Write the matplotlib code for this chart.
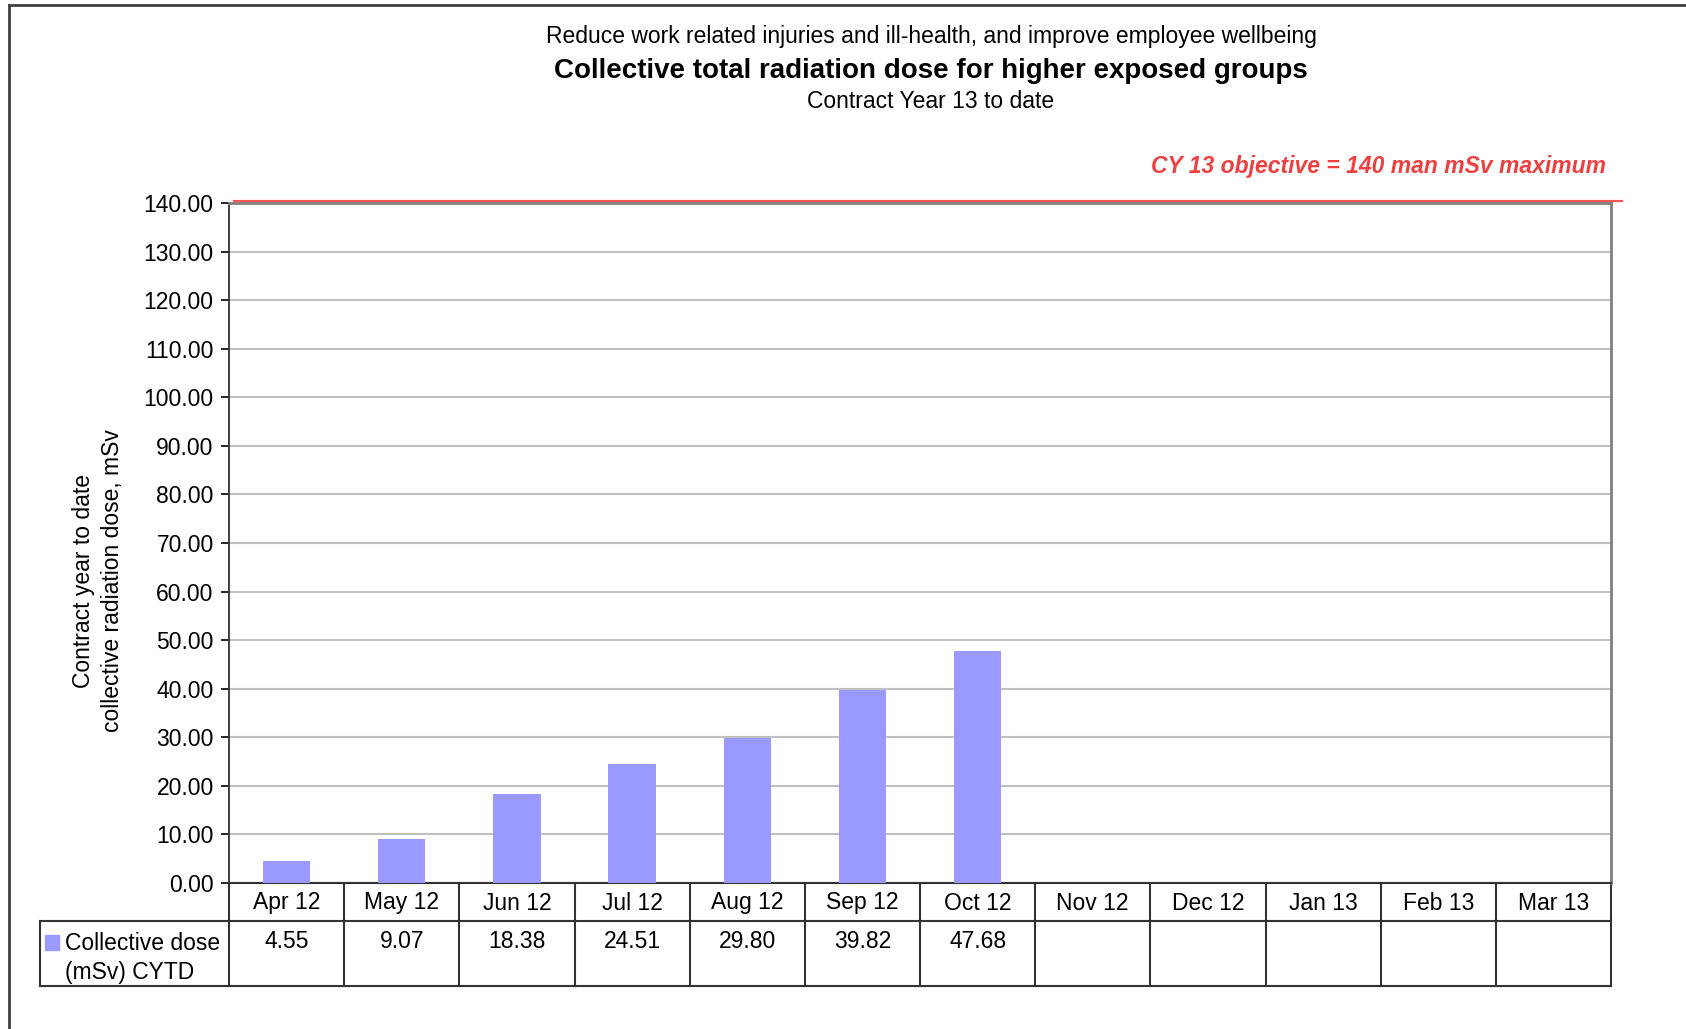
import matplotlib
matplotlib.use("Agg")
import matplotlib.pyplot as plt
from matplotlib.lines import Line2D
from matplotlib.patches import Rectangle
import matplotlib.transforms as mtransforms

plt.rcParams["font.family"] = ["Liberation Sans", "DejaVu Sans"]

# ---------------------------------------------------------
# Data
# ---------------------------------------------------------
months = ["Apr 12", "May 12", "Jun 12", "Jul 12", "Aug 12", "Sep 12",
          "Oct 12", "Nov 12", "Dec 12", "Jan 13", "Feb 13", "Mar 13"]
dose = [4.55, 9.07, 18.38, 24.51, 29.80, 39.82, 47.68]
objective = 140.0
series_label = "Collective dose\n(mSv) CYTD"

FS = 16.5

W, H = 1686, 1029
fig = plt.figure(figsize=(W / 100, H / 100), dpi=100)

# plot area in pixels
left, right, top, bottom = 229, 1611, 203, 883
ax = fig.add_axes([left / W, 1 - bottom / H, (right - left) / W, (bottom - top) / H])

x = list(range(len(months)))
ax.bar(x[:len(dose)], dose, width=0.41, color="#9999ff", zorder=3)

ax.set_xlim(-0.5, len(months) - 0.5)
ax.set_ylim(0, objective)
ax.set_yticks(range(0, 141, 10))
ax.set_yticklabels([f"{v:.2f}" for v in range(0, 141, 10)], fontsize=FS)
ax.set_xticks([])
ax.tick_params(axis="y", direction="out", length=6, width=1.2, pad=5)
ax.yaxis.grid(True, color="#c0c0c0", linewidth=1.5, zorder=0)
ax.set_axisbelow(True)
for side in ["top", "right"]:
    ax.spines[side].set_color("#808080")
    ax.spines[side].set_linewidth(2)
ax.spines["left"].set_color("#333333")
ax.spines["left"].set_linewidth(1.3)
ax.spines["bottom"].set_color("#333333")
ax.spines["bottom"].set_linewidth(1.5)

# objective line + label
ax.plot([0.0036, 1.008], [1.003, 1.003], transform=ax.transAxes,
        color="#ff5555", linewidth=1.6, clip_on=False, zorder=5)
fig.text(1606 / W, 1 - 167 / H, "CY 13 objective = 140 man mSv maximum",
         ha="right", va="center", fontsize=FS, fontweight="bold",
         fontstyle="italic", color="#ee4040")

# ---------------------------------------------------------
# Data table under the axis
# ---------------------------------------------------------
ph = bottom - top
pw = right - left
y_head = -38 / ph
y_end = -103 / ph
x_leg = (40 - left) / pw
trans = mtransforms.blended_transform_factory(ax.transData, ax.transAxes)
tline = dict(color="#333333", linewidth=1.5, clip_on=False)

for b in range(len(months) + 1):
    ax.plot([b - 0.5, b - 0.5], [0, y_end], transform=trans, **tline)
for yy in [y_head, y_end]:
    ax.plot([x_leg, 1], [yy, yy], transform=ax.transAxes, **tline)
ax.plot([x_leg, x_leg], [y_head, y_end], transform=ax.transAxes, **tline)

for i, m in enumerate(months):
    ax.text(i, -20 / ph, m, transform=trans, ha="center", va="center",
            fontsize=FS)
for i, v in enumerate(dose):
    ax.text(i, -58 / ph, f"{v:.2f}", transform=trans, ha="center", va="center",
            fontsize=FS)

ax.add_patch(Rectangle(((45 - left) / pw, -67 / ph), 14 / pw, 15 / ph,
                       transform=ax.transAxes, color="#9999ff", clip_on=False))
ax.text((65 - left) / pw, -75 / ph, series_label, transform=ax.transAxes,
        ha="left", va="center", fontsize=FS, linespacing=1.3)

# ---------------------------------------------------------
# Titles and axis label
# ---------------------------------------------------------
cx = 931 / W
fig.text(cx, 1 - 37 / H, "Reduce work related injuries and ill-health, and improve employee wellbeing",
         ha="center", va="center", fontsize=FS)
fig.text(cx, 1 - 71 / H, "Collective total radiation dose for higher exposed groups",
         ha="center", va="center", fontsize=20, fontweight="bold")
fig.text(cx, 1 - 102 / H, "Contract Year 13 to date",
         ha="center", va="center", fontsize=FS)
fig.text(98 / W, 1 - 581 / H, "Contract year to date\ncollective radiation dose, mSv",
         ha="center", va="center", rotation=90, fontsize=FS, linespacing=1.3)

# figure frame (left and top edges)
fig.add_artist(Line2D([9 / W, 9 / W], [0, 1 - 5 / H], color="#404040", linewidth=2))
fig.add_artist(Line2D([9 / W, 1], [1 - 5 / H, 1 - 5 / H], color="#404040", linewidth=2))

fig.savefig("out.png", dpi=100)
